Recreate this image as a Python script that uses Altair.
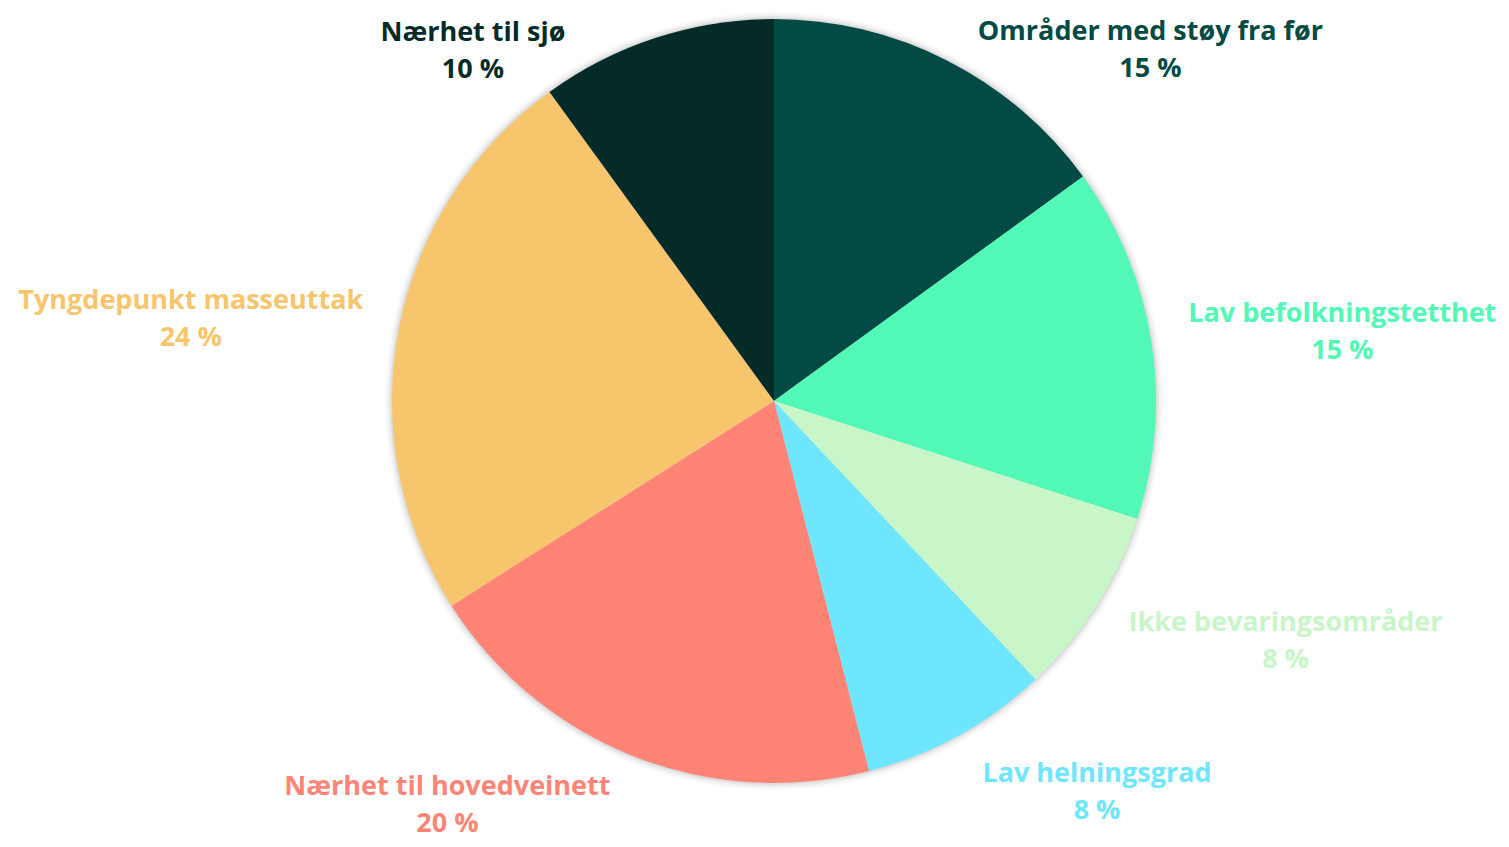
import altair as alt
import pandas as pd

categories = [
    "Områder med støy fra før",
    "Lav befolkningstetthet",
    "Ikke bevaringsområder",
    "Lav helningsgrad",
    "Nærhet til hovedveinett",
    "Tyngdepunkt masseuttak",
    "Nærhet til sjø",
]
shares = [15, 15, 8, 8, 20, 24, 10]
colors = ["#044a44", "#52f8b6", "#c8f6c8", "#6ee6fe", "#ff8476", "#f7c66c", "#052b29"]

df = pd.DataFrame({
    "kategori": categories,
    "andel": shares,
    "rekkefolge": list(range(len(categories))),
})

R = 382
color_scale = alt.Scale(domain=categories, range=colors)
theta_scale = alt.Scale(domain=[0, 100])

base = alt.Chart(df).encode(
    theta=alt.Theta("andel:Q", stack=True, scale=theta_scale),
    order=alt.Order("rekkefolge:Q"),
)

layers = []
# soft shadow around the pie
for extra, op in [(7, 0.025), (5, 0.03), (3, 0.04), (1.5, 0.05)]:
    layers.append(base.mark_arc(outerRadius=R + extra, color="#000000", opacity=op))

pie = base.mark_arc(outerRadius=R).encode(
    color=alt.Color("kategori:N", scale=color_scale, legend=None)
)
layers.append(pie)

# label offsets from the slice-midpoint on the pie edge (layout only)
label_offsets = {
    "Områder med støy fra før": (203, -29),
    "Lav befolkningstetthet": (191, -27),
    "Ikke bevaringsområder": (189, 17),
    "Lav helningsgrad": (139, 38),
    "Nærhet til hovedveinett": (-186, 31),
    "Tyngdepunkt masseuttak": (-208, -28),
    "Nærhet til sjø": (-183, -5),
}

label_base = (
    alt.Chart(df)
    .transform_window(cum="sum(andel)", sort=[alt.SortField("rekkefolge")], frame=[None, 0])
    .transform_calculate(
        midt="datum.cum - datum.andel / 2",
        etikett="datum.kategori + '\\n' + datum.andel + ' %'",
    )
)

for cat in categories:
    dx, dy = label_offsets[cat]
    layers.append(
        label_base.transform_filter(alt.datum.kategori == cat)
        .mark_text(
            radius=R, dx=dx, dy=dy, font="Open Sans", fontSize=27, fontWeight="bold",
            align="center", baseline="middle", lineBreak="\n", lineHeight=37,
        )
        .encode(
            theta=alt.Theta("midt:Q", scale=theta_scale, stack=None),
            text="etikett:N",
            color=alt.Color("kategori:N", scale=color_scale, legend=None),
        )
    )

chart = (
    alt.layer(*layers)
    .properties(
        width=1400,
        height=780,
        padding={"left": 66, "top": 3, "right": 27, "bottom": 48},
        autosize=alt.AutoSizeParams(type="none"),
        background="white",
    )
    .configure_view(stroke=None)
)

chart.save("out.html", embed_options={"renderer": "svg", "actions": False})
